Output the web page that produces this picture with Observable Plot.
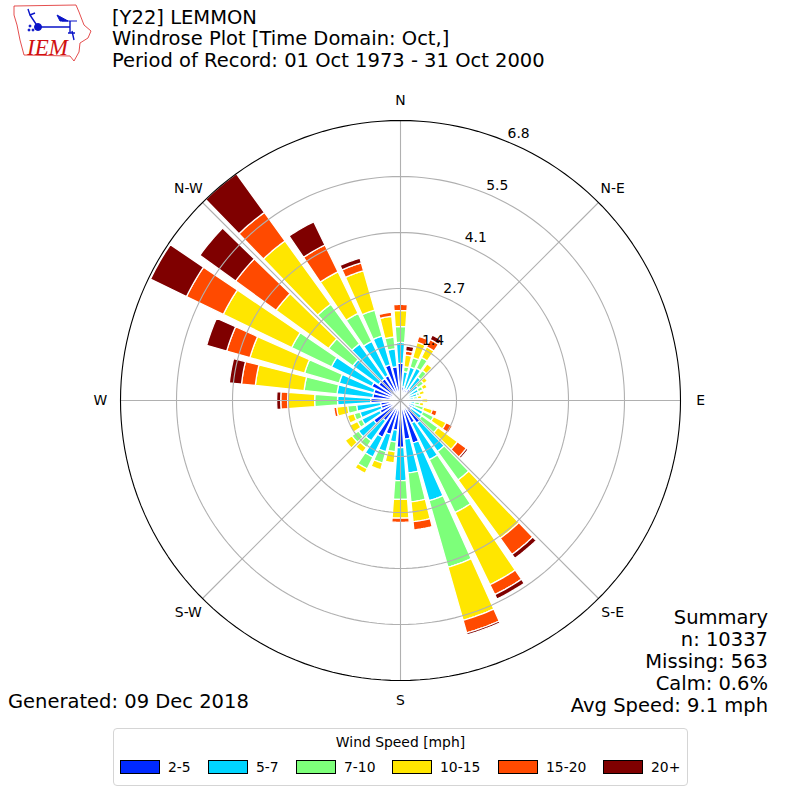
<!DOCTYPE html>
<html>
<head>
<meta charset="utf-8">
<script src="https://cdn.jsdelivr.net/npm/d3@7"></script>
<script src="https://cdn.jsdelivr.net/npm/@observablehq/plot@0.6"></script>
<style>
  html, body { margin: 0; padding: 0; background: #fff; }
  body { width: 800px; height: 800px; position: relative; overflow: hidden;
         font-family: "DejaVu Sans", sans-serif; color: #000; }
  #chart { position: absolute; left: 0; top: 0; }
  .t { position: absolute; white-space: pre; font-size: 19.5px; line-height: 22px; }
  #legend { position: absolute; left: 113px; top: 728px; width: 573px; height: 56px;
            border: 1px solid #d5d5d5; border-radius: 4px; background: #fff; font-size: 13.9px; }
  #legend .title { position: absolute; left: 0; right: 0; top: 5px; text-align: center; }
  #legend .sw { position: absolute; top: 31px; width: 38px; height: 12px; border: 1px solid #000; }
  #legend .lb { position: absolute; top: 30px; }
</style>
</head>
<body>
<div id="chart"></div>
<svg id="logo" width="100" height="66" style="position:absolute;left:0;top:0">
  <path d="M14,6 L76,5 L79,12 L84,25 L91,31 L88,38 L80,43 L79,52 L74,61 L70,56 L24,55 L20,40 L17,25 L14,15 Z" fill="none" stroke="#d22" stroke-width="0.8"/>
  <g stroke="#0a14c8" fill="#0a14c8">
    <path d="M38,27 H70 M70,21 V33 M38,27 L30,15 M28,9 L30,15 L35,13" fill="none" stroke-width="1.4"/>
    <circle cx="38" cy="27" r="3.5"/>
    <path d="M57,15 L68,21 L60,21 Z"/>
    <path d="M62,21 H77" fill="none" stroke-width="1"/>
    <path d="M68,33 L75,33 M72,31 L74,40" fill="none" stroke-width="1.4"/>
    <circle cx="30" cy="26" r="1"/><circle cx="29" cy="30" r="1"/><circle cx="33" cy="30" r="1"/>
  </g>
  <text x="27" y="55" font-family="Liberation Serif" font-style="italic" font-size="23" fill="#d01010">IEM</text>
</svg>
<div class="t" style="left:112px;top:7px">[Y22] LEMMON</div>
<div class="t" style="left:112px;top:28px">Windrose Plot [Time Domain: Oct,]</div>
<div class="t" style="left:112px;top:50px">Period of Record: 01 Oct 1973 - 31 Oct 2000</div>
<div class="t" style="left:8px;top:691px">Generated: 09 Dec 2018</div>
<div class="t" style="right:32px;top:607px">Summary</div>
<div class="t" style="right:32px;top:629px">n: 10337</div>
<div class="t" style="right:32px;top:651px">Missing: 563</div>
<div class="t" style="right:32px;top:673px">Calm: 0.6%</div>
<div class="t" style="right:32px;top:695px">Avg Speed: 9.1 mph</div>
<div id="legend"><div class="title">Wind Speed [mph]</div></div>
<script>
// Wind direction of each bar, degrees clockwise from north
const directions = [0,10,20,30,40,50,60,70,80,90,100,110,120,130,140,150,160,170,180,190,200,210,220,230,240,250,260,270,280,290,300,310,320,330,340,350];
// Frequency (%) of each speed class by direction
const speed2to5 = [.91,.34,.29,.29,.34,.24,.22,.20,.17,.20,.20,.20,.32,.32,.68,.61,1.08,.95,1.15,.73,.86,1.00,.61,.81,.56,.49,.49,.73,.68,.68,.78,.66,.66,.68,.91,.83];
const speed5to7 = [.51,.37,.56,.59,.37,.29,.27,.22,.15,.17,.15,.17,.29,.32,.86,1.00,1.47,.83,.81,.29,.44,.54,.61,.46,.49,.54,.59,.81,.88,.88,1.10,.78,1.05,.93,.73,.44];
const speed7to10 = [.39,.12,.24,.29,.20,.17,.12,.07,.10,.15,.12,.22,.29,.49,.86,1.44,1.69,.71,.46,.24,.29,.32,.20,.20,.12,.15,.22,.56,.81,.88,1.08,.73,1.20,.76,.66,.29];
const speed10to15 = [.39,.29,.39,.29,.20,.12,.12,.12,.10,.15,.10,.22,.34,.59,1.76,1.96,1.35,.49,.46,.27,.17,.12,.15,.20,.22,.17,.27,.66,1.20,1.39,1.86,1.59,1.91,1.13,1.00,.51];
const speed15to20 = [.15,.10,.15,.20,0,.02,.02,0,0,0,0,.12,.17,.27,.49,.27,.32,.20,.10,0,0,0,0,0,0,0,.07,.17,.34,.59,1.00,1.22,.86,.73,.20,.10];
const speed20plus = [0,.12,0,.12,0,0,0,0,0,0,0,0,0,.05,.12,.12,.05,0,0,0,0,0,0,0,0,0,0,.10,.30,.51,.98,1.08,1.17,.63,.12,0];
const speedSeries = [speed2to5, speed5to7, speed7to10, speed10to15, speed15to20, speed20plus];
const speedLabels = ["2-5","5-7","7-10","10-15","15-20","20+"];
const speedColors = ["#0029ff","#00d5ff","#7dff7a","#ffe600","#ff4a00","#7f0000"];
const radialTicks = [1.37,2.74,4.11,5.48,6.85];
const radialLabels = ["1.4","2.7","4.1","5.5","6.8"];
const compassAngles = [0,45,90,135,180,225,270,315];
const compassLabels = ["N","N-E","E","S-E","S","S-W","W","N-W"];
const rMax = 6.85, labelR = 7.34, barWidth = 8.2, radialLabelAngle = 22.5;

const px = (r, a) => r * Math.sin(a * Math.PI / 180);
const py = (r, a) => r * Math.cos(a * Math.PI / 180);

// Polar wedge outlines in data space
const wedges = [];
directions.forEach((dir, i) => {
  let base = 0;
  speedSeries.forEach((series, s) => {
    const v = series[i];
    if (v > 0) {
      const id = dir + "-" + s;
      const a0 = dir - barWidth / 2, a1 = dir + barWidth / 2;
      const pts = [];
      for (let k = 0; k <= 8; k++) pts.push([base + v, a0 + (a1 - a0) * k / 8]);
      for (let k = 8; k >= 0; k--) pts.push([base, a0 + (a1 - a0) * k / 8]);
      pts.push(pts[0]);
      for (const [r, a] of pts) wedges.push({id, speed: speedLabels[s], x: px(r, a), y: py(r, a)});
    }
    base += v;
  });
});

const ringPts = [];
radialTicks.forEach(r => { d3.range(0, 361, 2).forEach(a => ringPts.push({r, x: px(r, a), y: py(r, a)})); });
const spokes = compassAngles.map(a => ({x: px(rMax, a), y: py(rMax, a)}));

const plot = Plot.plot({
  width: 800, height: 800,
  marginLeft: 120, marginRight: 120, marginTop: 120, marginBottom: 120,
  style: {fontFamily: "DejaVu Sans", background: "transparent", overflow: "visible"},
  x: {domain: [-rMax, rMax], axis: null},
  y: {domain: [-rMax, rMax], axis: null},
  color: {type: "ordinal", domain: speedLabels, range: speedColors},
  marks: [
    Plot.line(wedges, {x: "x", y: "y", z: "id", fill: "speed", stroke: "white", strokeWidth: 1.3, strokeLinejoin: "miter"}),
    Plot.line(ringPts.filter(d => d.r < rMax), {x: "x", y: "y", z: "r", stroke: "#b0b0b0", strokeWidth: 1.1}),
    Plot.link(spokes, {x1: 0, y1: 0, x2: "x", y2: "y", stroke: "#b0b0b0", strokeWidth: 1.1}),
    Plot.line(ringPts.filter(d => d.r === rMax), {x: "x", y: "y", stroke: "#000", strokeWidth: 1.1}),
    Plot.text(compassAngles.map((a, i) => ({label: compassLabels[i], x: px(labelR, a), y: py(labelR, a)})),
      {x: "x", y: "y", text: "label", fontSize: 13.9, fill: "#000"}),
    Plot.text(radialTicks.map((r, i) => ({label: radialLabels[i], x: px(r, radialLabelAngle), y: py(r, radialLabelAngle)})),
      {x: "x", y: "y", text: "label", fontSize: 13.9, fill: "#000", dx: 11, dy: -8})
  ]
});
document.getElementById("chart").appendChild(plot);

// Legend
const legend = document.getElementById("legend");
const swatchLeft = [120,208,296,392,498,603];
speedLabels.forEach((label, i) => {
  const sw = document.createElement("div");
  sw.className = "sw"; sw.style.left = (swatchLeft[i] - 114) + "px"; sw.style.background = speedColors[i];
  legend.appendChild(sw);
  const lb = document.createElement("div");
  lb.className = "lb"; lb.style.left = (swatchLeft[i] - 114 + 48) + "px"; lb.textContent = label;
  legend.appendChild(lb);
});
</script>
</body>
</html>
